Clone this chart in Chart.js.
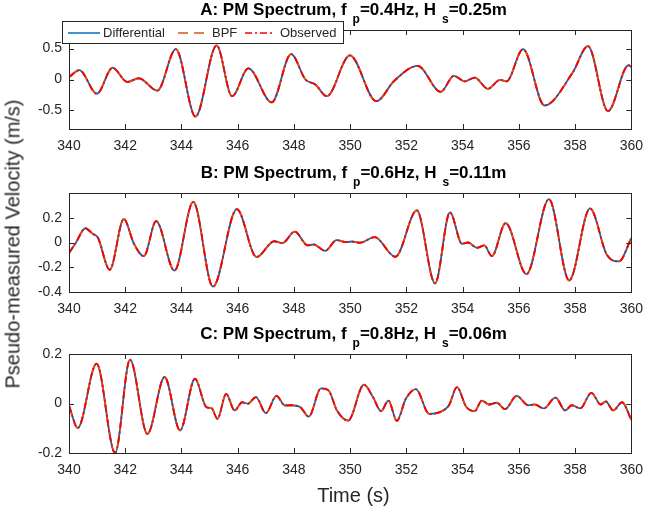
<!DOCTYPE html>
<html>
<head>
<meta charset="utf-8">
<script src="https://cdn.jsdelivr.net/npm/chart.js@4.4.1/dist/chart.umd.min.js"></script>
<style>
  body { margin: 0; background: #fff; }
  #page {
    position: relative; width: 652px; height: 514px; overflow: hidden;
    font-family: "Liberation Sans", Arial, Helvetica, sans-serif; color: #262626;
  }
  #page canvas { position: absolute; left: 0; }
  .ttl {
    position: absolute; left: 69px; width: 569px; text-align: center;
    font-weight: bold; font-size: 17px; line-height: 18px; color: #000; white-space: nowrap;
  }
  .ttl sub { font-size: 12px; vertical-align: baseline; position: relative; top: 8px; margin-left: 6px; }
  #ylab {
    position: absolute; left: 13px; top: 244px; font-size: 20px; white-space: nowrap;
    transform: translate(-50%, -50%) rotate(-90deg);
  }
  #xlab { position: absolute; left: 69px; width: 569px; top: 485px; text-align: center; font-size: 20px; line-height: 20px; }
</style>
</head>
<body>
<div id="page">
  <canvas id="chartA" width="652" height="160" style="top:0px"></canvas>
  <canvas id="chartB" width="652" height="160" style="top:160px"></canvas>
  <canvas id="chartC" width="652" height="194" style="top:320px"></canvas>
  <div class="ttl" style="top:1px">A: PM Spectrum, f<sub>p</sub>=0.4Hz, H<sub>s</sub>=0.25m</div>
  <div class="ttl" style="top:164px">B: PM Spectrum, f<sub>p</sub>=0.6Hz, H<sub>s</sub>=0.11m</div>
  <div class="ttl" style="top:325px">C: PM Spectrum, f<sub>p</sub>=0.8Hz, H<sub>s</sub>=0.06m</div>
  <div id="ylab">Pseudo-measured Velocity (m/s)</div>
  <div id="xlab">Time (s)</div>
</div>
<script>
// Velocity records (m/s) against time (s). Differential, BPF and Observed
// estimates lie on top of each other, so each panel shares one record.
const timeA = [340.00, 340.37, 340.99, 341.55, 342.07, 342.48, 343.14, 343.80, 344.50, 345.25,
               345.80, 346.38, 347.21, 347.90, 348.41, 348.76, 349.17, 349.99, 350.93, 351.57,
               352.40, 353.22, 353.69, 354.07, 354.43, 354.90, 355.33, 355.56, 356.15, 356.91,
               357.91, 358.46, 359.17, 359.90, 360.00];
const velA  = [0.04, 0.15, -0.23, 0.19, -0.04, 0.02, -0.18, 0.49, -0.60, 0.55,
               -0.27, 0.18, -0.37, 0.41, 0.00, -0.08, -0.27, 0.39, -0.35, -0.02,
               0.22, -0.20, 0.06, -0.03, 0.03, -0.15, -0.005, -0.03, 0.49, -0.42,
               0.11, 0.54, -0.51, 0.23, 0.20];

const timeB = [340.00, 340.25, 340.58, 340.84, 341.02, 341.45, 341.95, 342.31, 342.66, 343.10,
               343.75, 344.42, 345.12, 345.97, 346.67, 347.30, 347.59, 348.03, 348.49, 348.70,
               349.11, 349.52, 349.85, 350.05, 350.34, 350.87, 351.61, 352.37, 353.02, 353.55,
               353.98, 354.19, 354.51, 354.77, 355.04, 355.53, 356.27, 357.07, 357.79, 358.53,
               359.14, 359.56, 360.00];
const velB  = [-0.085, 0.00, 0.115, 0.07, 0.043, -0.22, 0.19, -0.01, -0.11, 0.173,
               -0.227, 0.328, -0.357, 0.27, -0.117, 0.01, -0.005, 0.088, -0.024, -0.016,
               -0.067, 0.02, 0.003, 0.008, -0.002, 0.043, -0.115, 0.259, -0.33, 0.243,
               -0.01, 0.00, -0.043, -0.024, -0.11, 0.157, -0.256, 0.35, -0.307, 0.275,
               -0.104, -0.152, 0.035];

const timeC = [340.00, 340.31, 340.98, 341.64, 342.17, 342.79, 343.40, 343.95, 344.48, 344.89,
               345.07, 345.28, 345.59, 345.89, 346.16, 346.36, 346.65, 347.00, 347.38, 347.68,
               347.88, 348.23, 348.53, 348.96, 349.23, 349.53, 349.93, 350.49, 350.81, 351.10,
               351.36, 351.66, 351.98, 352.34, 352.81, 353.16, 353.51, 353.80, 354.12, 354.43,
               354.68, 354.94, 355.21, 355.51, 355.92, 356.33, 356.56, 356.89, 357.30, 357.65,
               357.88, 358.18, 358.58, 358.91, 359.09, 359.36, 359.67, 360.00];
const velC  = [-0.008, -0.099, 0.161, -0.20, 0.177, -0.123, 0.107, -0.109, 0.10, -0.015,
               -0.019, -0.062, 0.039, -0.028, 0.005, -0.001, 0.026, -0.039, 0.031, -0.008,
               -0.007, -0.015, -0.053, 0.061, 0.053, -0.028, -0.069, 0.076, 0.026, -0.031,
               0.012, -0.07, 0.019, 0.058, -0.042, -0.036, -0.008, 0.066, -0.012, -0.031,
               0.012, -0.004, 0.003, -0.023, 0.031, -0.007, -0.004, -0.02, 0.024, -0.028,
               -0.007, -0.02, 0.043, -0.004, 0.008, -0.028, 0.005, -0.066];

const seriesNames = ['Differential', 'BPF', 'Observed'];
const timeTicks = [340, 342, 344, 346, 348, 350, 352, 354, 356, 358, 360];
const yTicksA = [-0.5, 0, 0.5];
const yTicksB = [-0.4, -0.2, 0, 0.2];
const yTicksC = [-0.2, 0, 0.2];

const FONT = '"Liberation Sans", Arial, Helvetica, sans-serif';
const AXIS_COLOR = '#262626';
const PLOT_LEFT = 69;
const PLOT_RIGHT = 638;

// line styles: blue solid, orange dashed, red dash-dot (drawn last, on top)
const lineStyles = [
    { color: '#0072BD', dash: [] },
    { color: '#D95319', dash: [10, 6] },
    { color: '#FF0000', dash: [7, 3, 2, 3] }
];

// box around the plot area with inward tick marks on all four sides
const axesBox = {
    id: 'axesBox',
    afterDatasetsDraw(chart) {
        const { ctx, chartArea: a, scales: { x, y } } = chart;
        const len = 5;
        ctx.save();
        ctx.strokeStyle = AXIS_COLOR;
        ctx.lineWidth = 1;
        ctx.beginPath();
        x.ticks.forEach(t => {
            const px = Math.round(x.getPixelForValue(t.value)) + 0.5;
            ctx.moveTo(px, a.bottom); ctx.lineTo(px, a.bottom - len);
            ctx.moveTo(px, a.top); ctx.lineTo(px, a.top + len);
        });
        y.ticks.forEach(t => {
            const py = Math.round(y.getPixelForValue(t.value)) + 0.5;
            ctx.moveTo(a.left, py); ctx.lineTo(a.left + len, py);
            ctx.moveTo(a.right, py); ctx.lineTo(a.right - len, py);
        });
        ctx.stroke();
        ctx.strokeRect(Math.round(a.left) + 0.5, Math.round(a.top) + 0.5,
                       Math.round(a.right - a.left), Math.round(a.bottom - a.top));
        ctx.restore();
    }
};

// MATLAB-style legend box in the upper left of panel A
const seriesLegend = {
    id: 'seriesLegend',
    afterDraw(chart) {
        if (!chart.options.plugins.seriesLegend.show) return;
        const ctx = chart.ctx;
        const box = { x: 62.5, y: 21.5, w: 281, h: 22 };
        const items = [
            { x0: 68, x1: 100, tx: 103 },
            { x0: 178, x1: 207, tx: 212 },
            { x0: 245, x1: 275, tx: 280 }
        ];
        const cy = 33;
        ctx.save();
        ctx.fillStyle = '#fff';
        ctx.fillRect(box.x, box.y, box.w, box.h);
        ctx.strokeStyle = AXIS_COLOR;
        ctx.lineWidth = 1;
        ctx.strokeRect(box.x, box.y, box.w, box.h);
        ctx.font = '13px ' + FONT;
        ctx.textBaseline = 'middle';
        items.forEach((it, i) => {
            ctx.strokeStyle = lineStyles[i].color;
            ctx.setLineDash(lineStyles[i].dash);
            ctx.lineWidth = 1.5;
            ctx.beginPath();
            ctx.moveTo(it.x0, cy);
            ctx.lineTo(it.x1, cy);
            ctx.stroke();
            ctx.fillStyle = AXIS_COLOR;
            ctx.fillText(seriesNames[i], it.tx, cy + 0.5);
        });
        ctx.restore();
    }
};

function makePanel(id, time, vel, yMin, yMax, yTicks, plotTop, plotBottom, canvasTop, canvasHeight, showLegend) {
    const points = time.map((t, i) => ({ x: t, y: vel[i] }));
    const datasets = seriesNames.map((name, i) => ({
        label: name,
        data: points,
        borderColor: lineStyles[i].color,
        borderDash: lineStyles[i].dash,
        borderWidth: 1.8,
        pointRadius: 0,
        cubicInterpolationMode: 'monotone',
        order: seriesNames.length - i
    }));

    return new Chart(document.getElementById(id), {
        type: 'line',
        data: { datasets },
        options: {
            responsive: false,
            animation: false,
            events: [],
            layout: { padding: { top: plotTop - canvasTop, right: 652 - PLOT_RIGHT, left: 0, bottom: 0 } },
            plugins: {
                legend: { display: false },
                tooltip: { enabled: false },
                seriesLegend: { show: showLegend }
            },
            scales: {
                x: {
                    type: 'linear',
                    min: 340,
                    max: 360,
                    grid: { display: false, drawTicks: false },
                    border: { display: false },
                    ticks: { autoSkip: false, maxRotation: 0, padding: 9, color: AXIS_COLOR,
                             font: { family: FONT, size: 14 } },
                    afterBuildTicks: s => { s.ticks = timeTicks.map(v => ({ value: v })); },
                    afterFit: s => { s.height = canvasTop + canvasHeight - plotBottom; }
                },
                y: {
                    min: yMin,
                    max: yMax,
                    grid: { display: false, drawTicks: false },
                    border: { display: false },
                    ticks: { padding: 7, color: AXIS_COLOR, font: { family: FONT, size: 14 } },
                    afterBuildTicks: s => { s.ticks = yTicks.map(v => ({ value: v })); },
                    afterFit: s => { s.width = PLOT_LEFT; }
                }
            }
        },
        plugins: [axesBox, seriesLegend]
    });
}

makePanel('chartA', timeA, velA, -0.8, 0.8, yTicksA, 30, 129, 0, 160, true);
makePanel('chartB', timeB, velB, -0.4, 0.4, yTicksB, 193, 292, 160, 160, false);
makePanel('chartC', timeC, velC, -0.2, 0.2, yTicksC, 354, 453, 320, 194, false);
</script>
</body>
</html>
